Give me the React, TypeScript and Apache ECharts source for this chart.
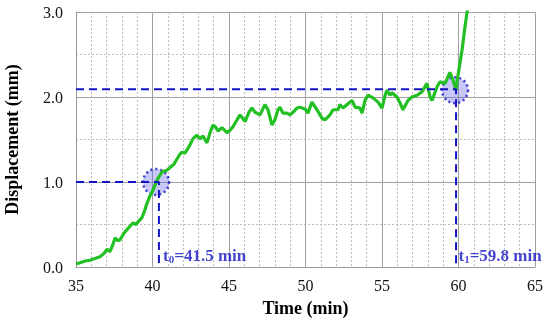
import React, { useEffect, useRef } from "react";
import * as echarts from "echarts";

const times = [35.0, 35.26, 35.6, 35.9, 36.24, 36.57, 36.83, 37.03, 37.22, 37.42, 37.55, 37.75, 37.88, 38.14, 38.33, 38.53, 38.73, 38.92, 39.05, 39.31, 39.5, 39.64, 39.84, 39.97, 40.16, 40.29, 40.49, 40.62, 40.82, 40.95, 41.2, 41.4, 41.6, 41.8, 41.93, 42.12, 42.4, 42.65, 42.9, 43.1, 43.3, 43.56, 43.76, 43.95, 44.15, 44.28, 44.54, 44.87, 45.07, 45.26, 45.52, 45.72, 46.05, 46.3, 46.5, 46.7, 47.03, 47.35, 47.55, 47.81, 48.0, 48.2, 48.33, 48.53, 48.79, 48.99, 49.18, 49.44, 49.64, 49.97, 50.16, 50.42, 50.75, 50.95, 51.08, 51.27, 51.6, 51.8, 52.12, 52.25, 52.45, 52.78, 53.04, 53.24, 53.56, 53.7, 53.89, 54.08, 54.41, 54.74, 55.0, 55.2, 55.33, 55.52, 55.65, 55.98, 56.18, 56.37, 56.7, 56.96, 57.29, 57.61, 57.94, 58.14, 58.27, 58.6, 58.79, 59.12, 59.44, 59.64, 59.84, 59.97, 60.23, 60.42, 60.56, 60.62];
const displacement = [0.035, 0.05, 0.07, 0.08, 0.1, 0.12, 0.16, 0.21, 0.18, 0.27, 0.34, 0.31, 0.32, 0.4, 0.44, 0.48, 0.52, 0.5, 0.53, 0.58, 0.67, 0.75, 0.84, 0.88, 0.96, 1.02, 1.08, 1.12, 1.13, 1.14, 1.18, 1.21, 1.27, 1.33, 1.35, 1.34, 1.42, 1.51, 1.55, 1.51, 1.54, 1.46, 1.58, 1.67, 1.64, 1.6, 1.64, 1.58, 1.61, 1.65, 1.73, 1.79, 1.71, 1.82, 1.87, 1.82, 1.79, 1.91, 1.85, 1.67, 1.73, 1.85, 1.88, 1.81, 1.81, 1.79, 1.82, 1.87, 1.88, 1.86, 1.81, 1.94, 1.85, 1.79, 1.75, 1.73, 1.79, 1.85, 1.85, 1.91, 1.87, 1.92, 1.96, 1.88, 1.87, 1.81, 1.96, 2.02, 1.99, 1.94, 1.87, 2.02, 2.08, 2.02, 2.05, 2.0, 1.93, 1.85, 1.96, 2.0, 2.02, 2.06, 2.16, 2.0, 1.96, 2.12, 2.18, 2.16, 2.29, 2.2, 2.08, 2.26, 2.55, 2.82, 3.0, 3.08];

const xTicks = [35, 40, 45, 50, 55, 60, 65];
const yTicks = [0, 1, 2, 3];

// annotation markers: [time, displacement]
const t0Point = [40.42, 1.0];
const t1Point = [59.84, 2.09];
const circleCenters = [[40.23, 1.0], [59.77, 2.08]];
const labelAnchors = [[40.69, 0.13], [60.0, 0.13]];
const t0Label = "41.5";
const t1Label = "59.8";

const BLUE = "#1414c4";
const FONT = "'Liberation Serif', 'Times New Roman', serif";

export default function App() {
  const ref = useRef<HTMLDivElement>(null);
  useEffect(() => {
    if (!ref.current) return;
    const chart = echarts.init(ref.current, undefined, { renderer: "svg" });
    const dashed = { color: BLUE, width: 2, type: [8, 5] as any };
    const labelRich = {
      a: { fontFamily: FONT, fontSize: 17, fontWeight: "bold", color: BLUE, lineHeight: 18 },
      s: { fontFamily: FONT, fontSize: 11, fontWeight: "bold", color: BLUE, lineHeight: 11, verticalAlign: "bottom" },
    };
    chart.setOption({
      animation: false,
      grid: { left: 76, right: 15, top: 12, bottom: 60, containLabel: false, outerBoundsMode: "none" },
      xAxis: {
        type: "value",
        min: xTicks[0],
        max: xTicks[xTicks.length - 1],
        interval: 5,
        name: "Time (min)",
        nameLocation: "middle",
        nameGap: 32,
        nameTextStyle: { fontFamily: FONT, fontSize: 18, fontWeight: "bold", color: "#000" },
        axisLine: { show: true, lineStyle: { color: "#999", width: 1 } },
        axisTick: { show: false },
        axisLabel: { fontFamily: FONT, fontSize: 16, color: "#111", margin: 10 },
        splitLine: { show: true, lineStyle: { color: "#a0a0a0", width: 1 } },
        minorTick: { show: false, splitNumber: 5 },
        minorSplitLine: { show: true, lineStyle: { color: "#bdbdbd", width: 1, type: [2, 2] } },
      },
      yAxis: {
        type: "value",
        min: yTicks[0],
        max: yTicks[yTicks.length - 1],
        interval: 1,
        name: "Displacement (mm)",
        nameLocation: "middle",
        nameGap: 55,
        nameTextStyle: { fontFamily: FONT, fontSize: 18, fontWeight: "bold", color: "#000" },
        axisLine: { show: true, lineStyle: { color: "#999", width: 1 } },
        axisTick: { show: false },
        axisLabel: { fontFamily: FONT, fontSize: 16, color: "#111", margin: 13, formatter: (v: number) => v.toFixed(1) },
        splitLine: { show: true, lineStyle: { color: "#a0a0a0", width: 1 } },
        minorTick: { show: false, splitNumber: 2 },
        minorSplitLine: { show: true, lineStyle: { color: "#bdbdbd", width: 1, type: [2, 2] } },
      },
      series: [
        {
          type: "scatter",
          data: circleCenters,
          symbol: "circle",
          symbolSize: 26,
          itemStyle: { color: "rgba(100,100,235,0.45)", borderColor: BLUE, borderWidth: 2.5, borderType: [2, 3] as any },
          silent: true,
          z: 1,
        },
        {
          type: "line",
          data: times.map((t, i) => [t, displacement[i]]),
          showSymbol: false,
          symbol: "none",
          clip: true,
          lineStyle: { color: "#22c022", width: 3.2 },
          z: 2,
        },
        {
          type: "line",
          data: [[xTicks[0], t0Point[1]], [t0Point[0], t0Point[1]], [t0Point[0], yTicks[0]]],
          symbol: "none",
          lineStyle: dashed,
          z: 3,
        },
        {
          type: "line",
          data: [[xTicks[0], t1Point[1]], [t1Point[0], t1Point[1]], [t1Point[0], yTicks[0]]],
          symbol: "none",
          lineStyle: dashed,
          z: 3,
        },
        {
          type: "scatter",
          data: labelAnchors,
          symbolSize: 0,
          itemStyle: { color: "transparent" },
          silent: true,
          z: 4,
          label: {
            show: true,
            position: "right",
            distance: 0,
            formatter: (p: any) =>
              p.dataIndex === 0
                ? `{a|t}{s|0}{a|=${t0Label} min}`
                : `{a|t}{s|1}{a|=${t1Label} min}`,
            rich: labelRich,
          },
        },
      ],
    });
    return () => chart.dispose();
  }, []);
  return <div ref={ref} style={{ position: "fixed", left: 0, top: 0, width: 550, height: 327 }} />;
}
